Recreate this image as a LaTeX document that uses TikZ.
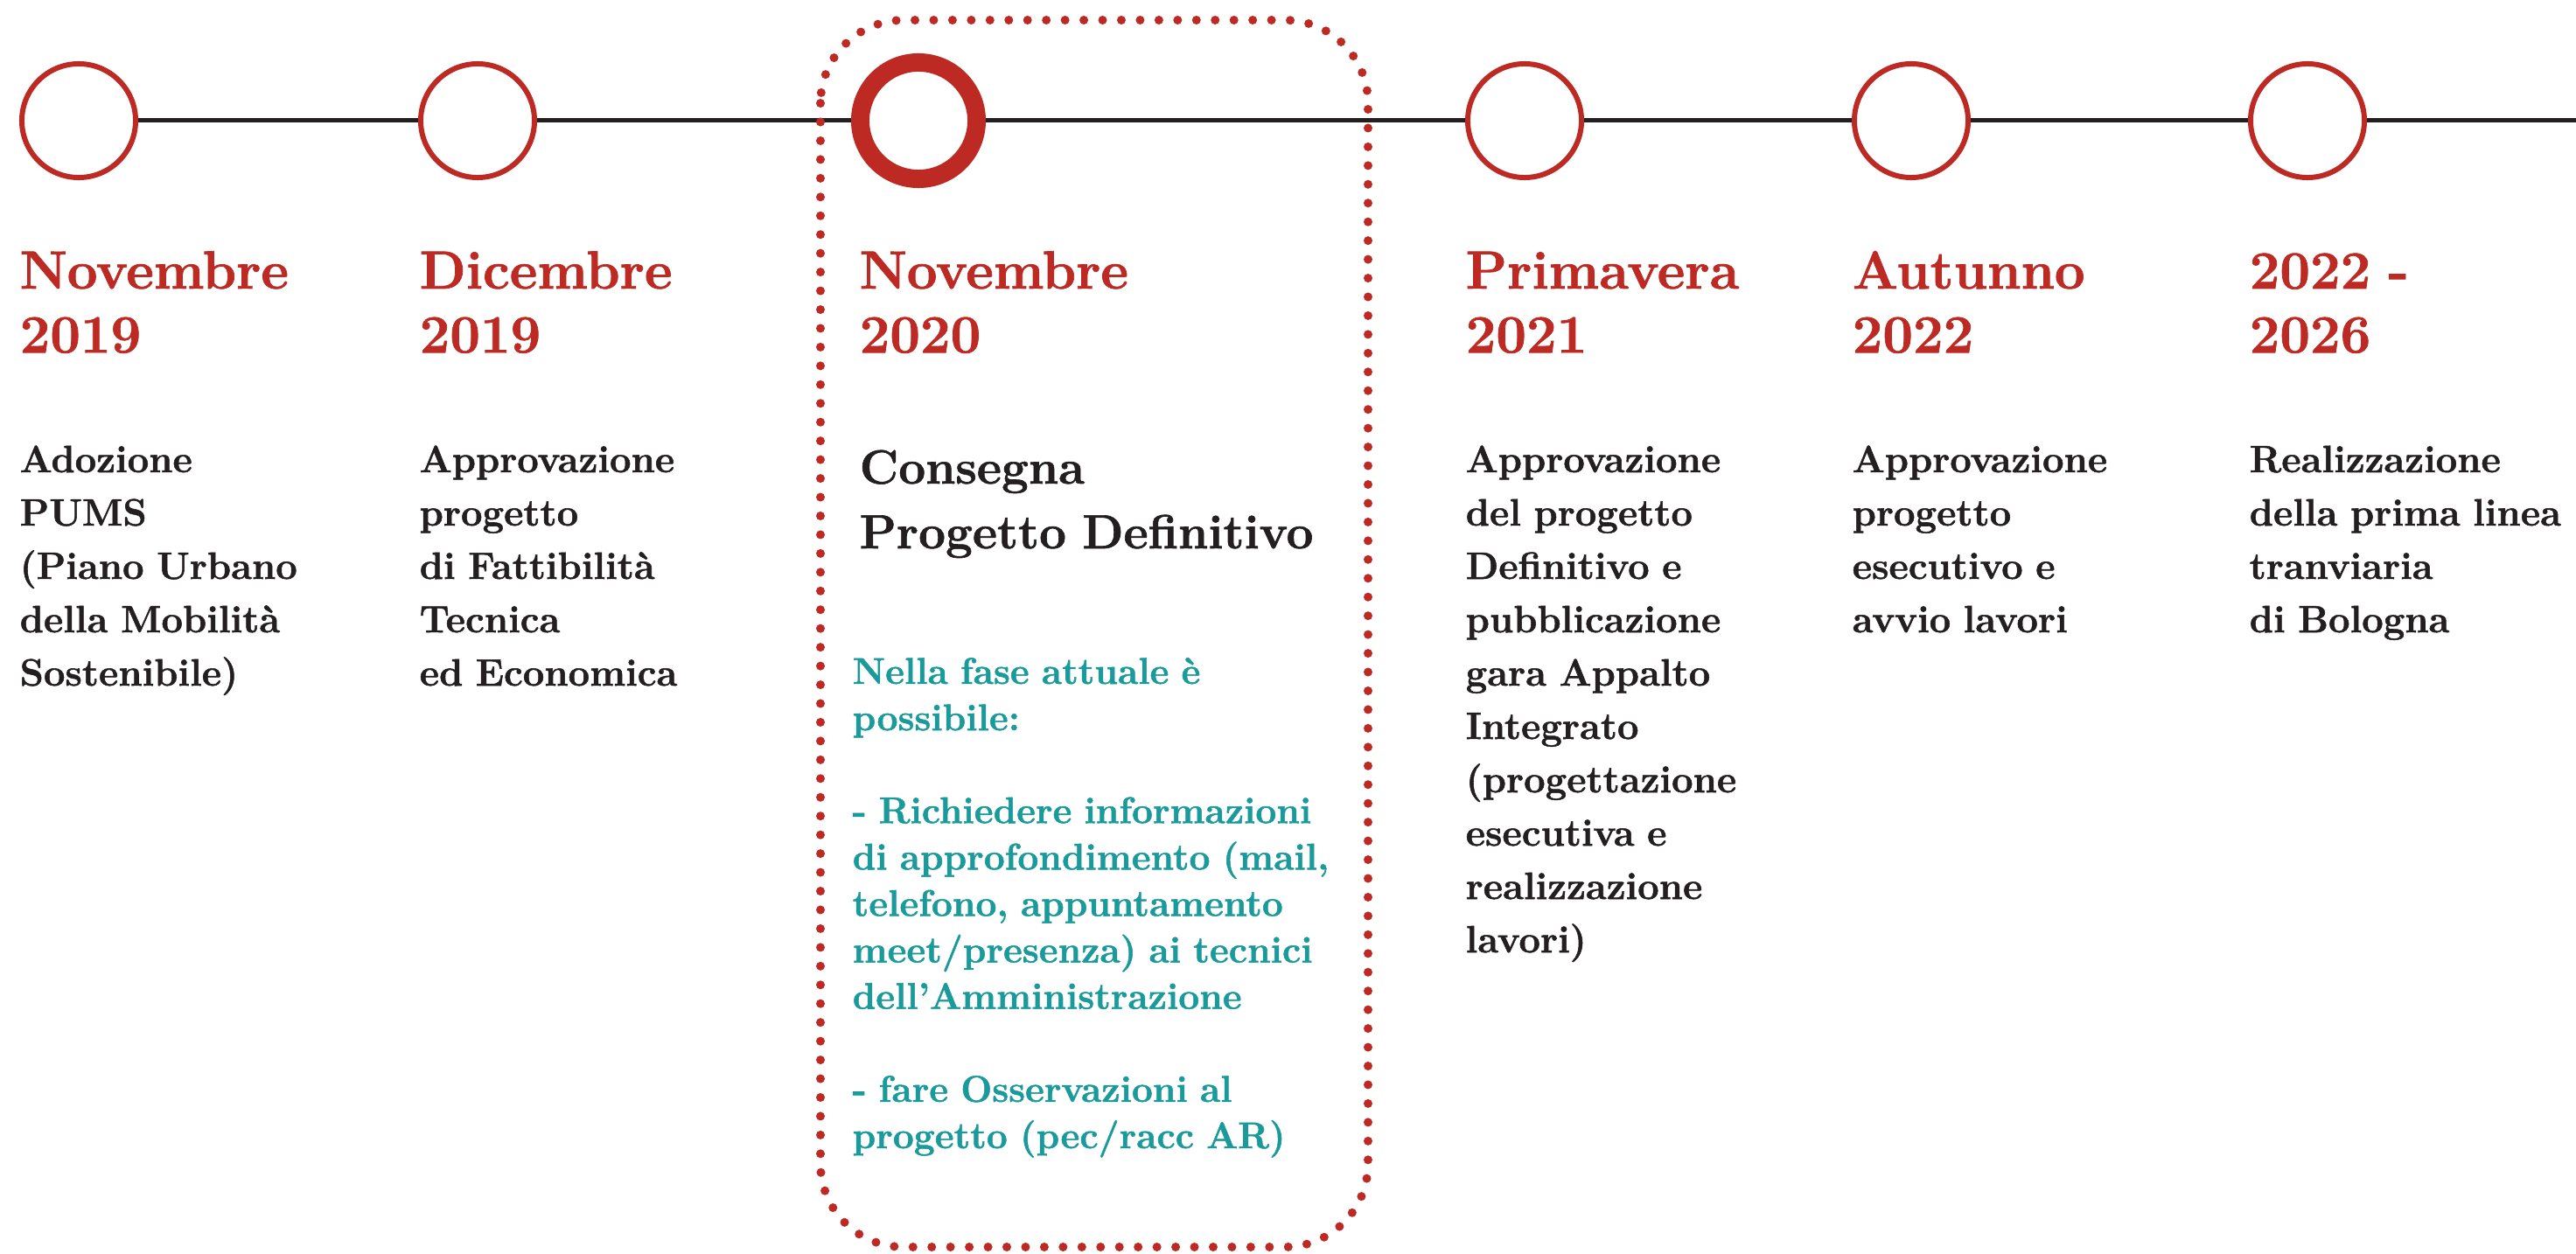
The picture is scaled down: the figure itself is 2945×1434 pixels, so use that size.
\documentclass[tikz,border=0pt]{standalone}
\usepackage{fontspec}
\setmainfont{Latin Modern Roman}[BoldFeatures={FakeBold=1.2}]
\definecolor{tramred}{HTML}{BD2A23}
\definecolor{tramteal}{HTML}{1B9A9B}
\definecolor{inkblack}{HTML}{231F20}

\begin{document}
\begin{tikzpicture}[x=0.01cm, y=-0.01cm,
        stop/.style={circle, draw=tramred, line width=1.7pt, fill=white, minimum size=1.3cm, inner sep=0pt},
        nowstop/.style={circle, draw=tramred, line width=5.97pt, fill=white, minimum size=1.33cm, inner sep=0pt},
        track/.style={draw=inkblack, line width=1.42pt},
        when/.style={anchor=base west, inner sep=0pt, text width=6cm, align=left, text=tramred, font=\fontsize{17.5}{20.8}\selectfont\bfseries},
        what/.style={anchor=base west, inner sep=0pt, text width=6cm, align=left, text=inkblack, font=\fontsize{12.4}{17.35}\selectfont\bfseries},
        bigwhat/.style={what, font=\fontsize{15.6}{21.05}\selectfont\bfseries},
        note/.style={what, text width=6.5cm, text=tramteal, font=\fontsize{12.1}{15.1}\selectfont\bfseries},
        nowbox/.style={draw=tramred, line width=2.85pt, line cap=round, dash pattern=on 0pt off 6.1pt, rounded corners=0.95cm}]
        \useasboundingbox (0,0) rectangle (2945,1434);

        % fermate
        \node[stop] (s1) at (90, 138) {};
        \node[stop] (s2) at (546, 138) {};
        \node[nowstop] (s3) at (1050, 138) {};
        \node[stop] (s4) at (1743, 138) {};
        \node[stop] (s5) at (2185, 138) {};
        \node[stop] (s6) at (2638, 138) {};
        \coordinate (tend) at (2945, 138);

        \draw[track] (s1) -- (s2);
        \draw[track] (s2) -- (s3);
        \draw[track] (s3) -- (s4);
        \draw[track] (s4) -- (s5);
        \draw[track] (s5) -- (s6);
        \draw[track] (s6) -- (tend);

        % fase attuale
        \draw[nowbox] (938, 23) rectangle (1564, 1426);

        \node[when] (w1) at (22, 330) {Novembre\\2019};
        \node[when] (w2) at (479, 330) {Dicembre\\2019};
        \node[when] (w3) at (982, 330) {Novembre\\2020};
        \node[when] (w4) at (1675, 330) {Primavera\\2021};
        \node[when] (w5) at (2117, 330) {Autunno\\2022};
        \node[when] (w6) at (2571, 330) {2022 -\\2026};

        \node[what] (d1) at (22, 540) {Adozione\\PUMS\\(Piano Urbano\\della Mobilità\\Sostenibile)};
        \node[what] (d2) at (479, 540) {Approvazione\\progetto\\di Fattibilità\\Tecnica\\ed Economica};
        \node[bigwhat] (d3) at (982, 553) {Consegna\\Progetto Definitivo};
        \node[what] (d4) at (1675, 540) {Approvazione\\del progetto\\Definitivo e\\pubblicazione\\gara Appalto\\Integrato\\(progettazione\\esecutiva e\\realizzazione\\lavori)};
        \node[what] (d5) at (2117, 540) {Approvazione\\progetto\\esecutivo e\\avvio lavori};
        \node[what] (d6) at (2571, 540) {Realizzazione\\della prima linea\\tranviaria\\di Bologna};

        \node[note] (n3) at (974, 782) {Nella fase attuale è\\possibile:\\[15.1pt]- Richiedere informazioni\\di approfondimento (mail,\\telefono, appuntamento\\meet/presenza) ai tecnici\\dell’Amministrazione\\[15.1pt]- fare Osservazioni al\\progetto (pec/racc AR)};
    \end{tikzpicture}
\end{document}
